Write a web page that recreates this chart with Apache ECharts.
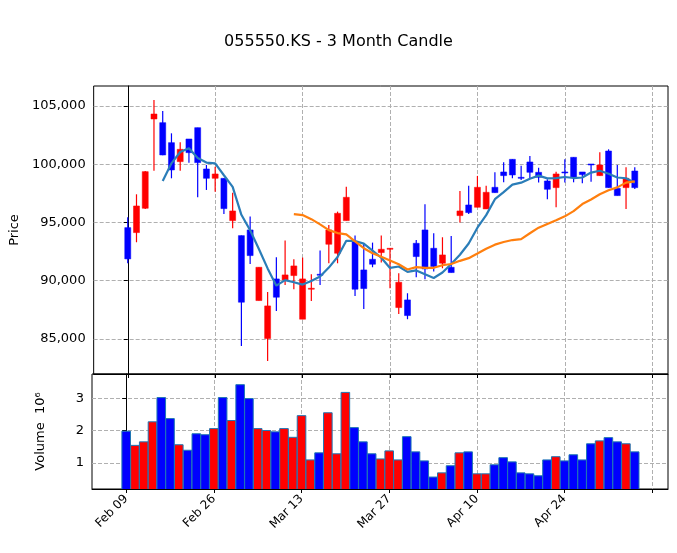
<!DOCTYPE html>
<html><head><meta charset="utf-8">
<script src="https://cdn.jsdelivr.net/npm/echarts@6/dist/echarts.min.js"></script>
<style>html,body{margin:0;padding:0;background:#fff}#c{width:677px;height:553px}</style>
</head><body><div id="c"></div>
<script>
const tickLabels = ['Feb 09','Feb 26','Mar 13','Mar 27','Apr 10','Apr 24',''];
const tickIdx = [0,10,20,30,40,50,60];
const opens  = [94561,94132,96220,103885,103570,101854,100224,102169,103141,99595,98794,98794,95162,93875,94361,88298,85037,90157,90071,90443,86697,89271,90557,93131,92359,95162,93360,90929,91844,92416,92702,87698,88355,93217,94361,92788,91501,91158,95591,96506,96306,96163,98022,99338,100425,98880,100196,99309,98565,97993,99338,100597,99338,100024,99023,101139,97936,97993,99423];
const closes = [91873,96420,99366,104314,100796,99509,101282,100996,100138,98794,99166,96191,95991,88155,92159,91158,87840,88584,90500,91272,90157,89357,90500,94361,95791,97164,89271,89328,91415,92702,92788,89872,87011,92073,91015,91215,92216,90700,95991,95849,98022,97593,97564,99023,99080,98823,99309,98880,97850,99166,99309,98880,99109,99966,99938,97993,97307,98794,97993];
const lows   = [91501,93303,96163,99452,100768,98794,99452,100138,97164,97793,97650,95734,94504,84408,91444,88298,83121,87412,89643,89271,86697,88269,89643,91501,91501,95162,88698,87583,91158,91558,89357,87154,86697,90300,90128,90786,91072,90700,94990,95734,96306,96163,97564,98451,98794,98651,98794,98423,96993,96306,98423,98451,98365,98508,99023,97993,97307,96163,97879];
const highs  = [95448,97421,99424,105515,104571,102655,101883,102169,103141,99939,99795,98794,97564,93875,95505,91158,89042,92016,93446,91844,91988,90557,92588,94790,95934,98079,93875,93217,93274,93875,92788,90643,88927,93503,96563,94075,93732,93847,97707,98165,99001,98165,99309,100168,100425,99881,100711,99710,98709,99366,100425,100597,99338,100024,101025,101282,99938,99738,99738];
const volumes= [1.98,1.54,1.65,2.27,3.02,2.37,1.56,1.39,1.90,1.87,2.06,3.02,2.31,3.42,2.99,2.06,2.00,1.96,2.06,1.79,2.46,1.09,1.31,2.55,1.28,3.18,2.09,1.65,1.28,1.12,1.37,1.09,1.81,1.34,1.06,0.56,0.69,0.91,1.31,1.34,0.66,0.66,0.94,1.16,1.03,0.69,0.66,0.60,1.09,1.19,1.06,1.25,1.09,1.59,1.68,1.78,1.65,1.59,1.34];

function ma(n){const r=[];for(let i=0;i<closes.length;i++){if(i<n-1)continue;let s=0;for(let j=i-n+1;j<=i;j++)s+=closes[j];r.push([i,s/n]);}return r;}
const candleData = opens.map((o,i)=>[i,o,closes[i],lows[i],highs[i]]);
const volData = volumes.map((v,i)=>[i,v,closes[i]>=opens[i]?1:0]);
const RED='#ff0000', BLUE='#0000ff';
const font='DejaVu Sans';
const chart = echarts.init(document.getElementById('c'));
const xBase = {type:'value',min:-3.9,max:61.8,splitLine:{show:true,lineStyle:{type:'dashed',color:'#b0b0b0'}},
  axisTick:{customValues:tickIdx,length:4,lineStyle:{color:'#000'}},axisLine:{lineStyle:{color:'#000'}}};
chart.setOption({
  animation:false,
  title:{text:'055550.KS - 3 Month Candle',left:'center',top:29,textStyle:{fontFamily:font,fontWeight:'normal',fontSize:16,color:'#000'}},
  grid:[{left:92,width:576,top:86,height:288,show:true,borderColor:'#000',borderWidth:1},
        {left:92,width:576,top:374,height:115,show:true,borderColor:'#000',borderWidth:1}],
  xAxis:[Object.assign({gridIndex:0,axisLabel:{show:false}},xBase),
         Object.assign({gridIndex:1,axisLabel:{customValues:tickIdx,rotate:45,fontFamily:font,fontSize:12,color:'#000',margin:8,
            formatter:v=>tickLabels[tickIdx.indexOf(v)]||''}},xBase)],
  yAxis:[{gridIndex:0,type:'value',min:81995,max:106717,name:'Price',nameLocation:'middle',nameGap:62,nameTextStyle:{fontFamily:font,fontSize:13,color:'#000'},
      axisLine:{show:true,lineStyle:{color:'#000'}},axisTick:{show:true,customValues:[85000,90000,95000,100000,105000],length:4},
      axisLabel:{customValues:[85000,90000,95000,100000,105000],fontFamily:font,fontSize:13,color:'#000'},
      splitLine:{lineStyle:{type:'dashed',color:'#b0b0b0'}}},
    {gridIndex:1,type:'value',min:0.19,max:3.75,name:'Volume  10⁶',nameLocation:'middle',nameGap:45,nameTextStyle:{fontFamily:font,fontSize:13,color:'#000'},
      axisLine:{show:true,lineStyle:{color:'#000'}},axisTick:{show:true,customValues:[1,2,3],length:4},
      axisLabel:{customValues:[1,2,3],fontFamily:font,fontSize:13,color:'#000'},
      splitLine:{lineStyle:{type:'dashed',color:'#b0b0b0'}}}],
  series:[
    {type:'custom',xAxisIndex:0,yAxisIndex:0,data:candleData,clip:true,
     renderItem:(p,api)=>{const x=api.value(0),o=api.value(1),c=api.value(2),l=api.value(3),h=api.value(4);
       const col=c>=o?RED:BLUE;const pt=v=>api.coord([x,v]);const w=6;
       const a=pt(Math.max(o,c)),b=pt(Math.min(o,c));
       return {type:'group',children:[
         {type:'line',shape:{x1:pt(h)[0],y1:pt(h)[1],x2:pt(l)[0],y2:pt(l)[1]},style:{stroke:col,lineWidth:1.2}},
         {type:'rect',shape:{x:a[0]-w/2,y:a[1],width:w,height:Math.max(1,b[1]-a[1])},style:{fill:col,stroke:col,lineWidth:0.5}}]};}},
    {type:'line',xAxisIndex:0,yAxisIndex:0,data:ma(5),showSymbol:false,lineStyle:{color:'#2a7db8',width:2.2}},
    {type:'line',xAxisIndex:0,yAxisIndex:0,data:ma(20),showSymbol:false,lineStyle:{color:'#ff7f0e',width:2.2}},
    {type:'custom',xAxisIndex:1,yAxisIndex:1,data:volData,clip:true,
     renderItem:(p,api)=>{const x=api.value(0),v=api.value(1);const top=api.coord([x,v]),bot=api.coord([x,0]);const w=8.6;
       return {type:'rect',shape:{x:top[0]-w/2,y:top[1],width:w,height:bot[1]-top[1]},style:{fill:api.value(2)?RED:BLUE,stroke:'#1f77b4',lineWidth:1}};}}
  ]
});
</script></body></html>
